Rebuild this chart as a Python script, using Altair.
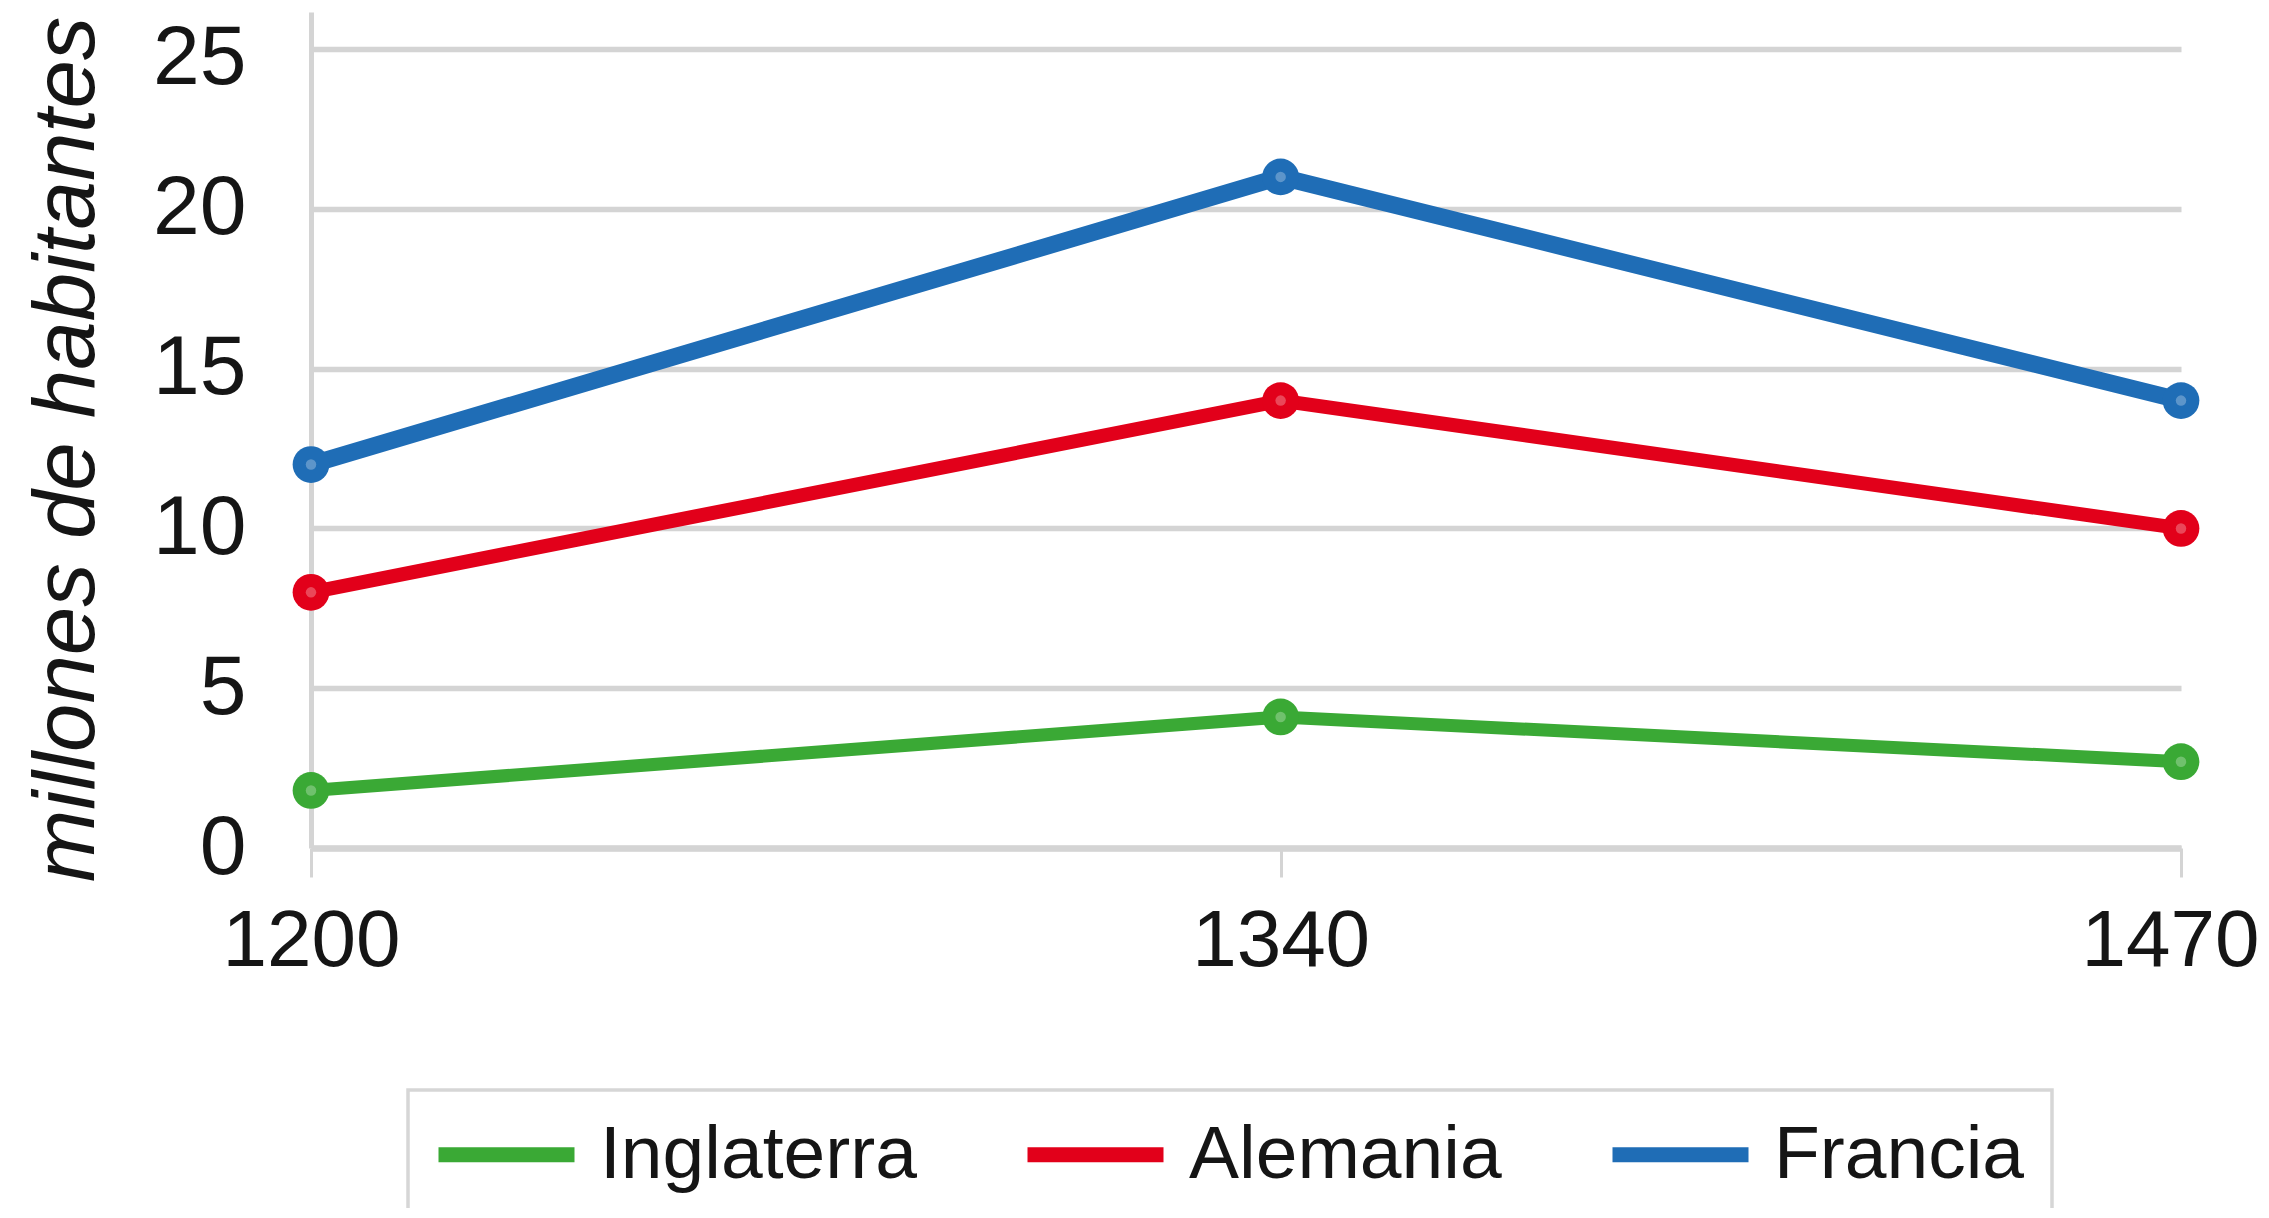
import altair as alt
import pandas as pd

# --- data ---
years = [1200, 1340, 1470]
paises = ["Inglaterra", "Alemania", "Francia"]
inglaterra = [1.8, 4.1, 2.7]
alemania = [8.0, 14.0, 10.0]
francia = [12.0, 21.0, 14.0]
y_ticks = [0, 5, 10, 15, 20, 25]

colores = ["#3aa935", "#e2001a", "#1f6db6"]
grosor = {"Inglaterra": 13, "Alemania": 14, "Francia": 17}

rows = []
for pais, vals in zip(paises, [inglaterra, alemania, francia]):
    for yr, v in zip(years, vals):
        rows.append({"anio": yr, "valor": v, "pais": pais})
df = pd.DataFrame(rows)

grid_color = "#d4d4d4"
font = "Liberation Sans, Arial, sans-serif"
text_color = "#151515"

x = alt.X(
    "anio:Q",
    scale=alt.Scale(domain=[1200, 1470], nice=False, zero=False),
    axis=alt.Axis(
        values=years, format="d", title=None, grid=False,
        domainColor=grid_color, domainWidth=6.5,
        tickColor=grid_color, tickWidth=3, tickSize=29,
        labelFont=font, labelFontSize=80, labelColor=text_color,
        labelPadding=25, labelFlush=False, labelOverlap=False, labelLimit=1000,
        labelOffset={"condition": {"test": "datum.value == 1470", "value": -11}, "value": 0},
    ),
)
y = alt.Y(
    "valor:Q",
    scale=alt.Scale(domain=[0, 26.16], nice=False, zero=True),
    axis=alt.Axis(
        values=y_ticks, title="millones de habitantes",
        grid=True, gridColor=grid_color, gridWidth=5.5,
        domainColor=grid_color, domainWidth=5,
        ticks=False, labelFont=font, labelFontSize=84, labelColor=text_color,
        labelPadding=65, labelFlush=False, labelOverlap=False, labelLimit=1000,
        labelOffset={"condition": {"test": "datum.value == 25", "value": 9}, "value": 0},
        titleFont=font, titleFontStyle="italic", titleFontWeight="normal",
        titleFontSize=87, titleColor=text_color, titleAngle=270,
        titleX=-218, titleY=437, titleAlign="center", titleBaseline="alphabetic",
        titleLimit=2000,
    ),
)
color_scale = alt.Scale(domain=paises, range=colores)
color = alt.Color(
    "pais:N",
    scale=color_scale,
    legend=alt.Legend(
        title=None, orient="none", legendX=97, legendY=1078,
        direction="horizontal", symbolType="M-2,0H6",
        symbolSize=1156, symbolStrokeWidth=15, symbolFillColor="transparent",
        labelFont=font, labelFontSize=75, labelColor=text_color,
        labelOffset=90, columnPadding=80, padding=27,
        strokeColor="#d6d6d6", fillColor="white", labelLimit=1000,
        gridAlign="each",
    ),
)

layers = []
for pais in paises:
    layers.append(
        alt.Chart(df)
        .transform_filter(alt.datum.pais == pais)
        .mark_line(strokeWidth=grosor[pais])
        .encode(x=x, y=y, color=color)
    )
points = alt.Chart(df).mark_circle(size=1350, opacity=1).encode(
    x=x, y=y,
    color=alt.Color("pais:N", scale=color_scale, legend=None),
)
centers = alt.Chart(df).mark_circle(size=110, opacity=0.28, color="white").encode(
    x=x, y=y,
)
layers.extend([points, centers])

chart = (
    alt.layer(*layers)
    .properties(
        width=1870, height=836,
        autosize=alt.AutoSizeParams(type="none"),
        padding={"left": 303, "top": 4, "right": 80, "bottom": 360},
        background="white",
    )
    .configure_view(stroke=None)
    .configure_legend(strokeWidth=3.5)
)

chart.save("out.html", embed_options={"renderer": "svg", "actions": False})
